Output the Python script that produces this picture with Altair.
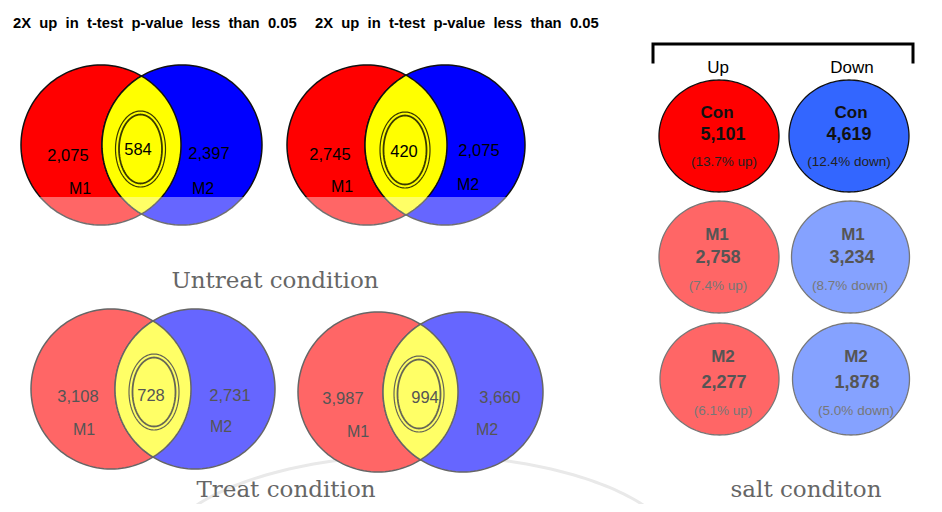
import altair as alt
import pandas as pd
import numpy as np

# ---------------- data ----------------
titles = ["2X up in t-test p-value less than 0.05", "2X up in t-test p-value less than 0.05"]
venn_m1_only = ["2,075", "2,745", "3,108", "3,987"]
venn_both = ["584", "420", "728", "994"]
venn_m2_only = ["2,397", "2,075", "2,731", "3,660"]
venn_set_names = ["M1", "M2"]
condition_labels = ["Untreat condition", "Treat condition", "salt conditon"]
salt_columns = ["Up", "Down"]
salt_groups = ["Con", "M1", "M2"]
salt_up = ["5,101", "2,758", "2,277"]
salt_up_pct = ["(13.7% up)", "(7.4% up)", "(6.1% up)"]
salt_down = ["4,619", "3,234", "1,878"]
salt_down_pct = ["(12.4% down)", "(8.7% down)", "(5.0% down)"]

# ---------------- layout (page pixels) ----------------
W, H = 926, 496
venn_lcx = [101, 367, 111, 378]
venn_rcx = [182, 445, 195, 463]
venn_cy = [145, 145, 389, 392]
venn_r = [80, 80, 80, 80]
venn_ell = [(140.5, 149), (405, 150), (154, 392), (419, 394)]
venn_m1_pos = [(68, 156), (330, 155), (78, 397), (343, 399)]
venn_both_pos = [(138, 150), (404, 152), (151, 396), (425, 398)]
venn_m2_pos = [(209, 154), (479, 151), (230, 396), (500, 398)]
venn_n1_pos = [(80, 189), (342, 187), (84, 430), (358, 432)]
venn_n2_pos = [(203, 189), (468, 185), (221, 427), (487, 430)]
venn_fade_y = [197, 197, None, None]
venn_strong = [True, True, False, False]

title_pos = [(13, 24), (315, 24)]
cond_pos = [(275, 288), (286, 497), (806, 497)]
col_pos = [(718, 68), (852, 68)]
bracket_x = [653, 653, 913, 913]
bracket_y = [62, 44, 44, 62]
watermark = (420, 560, 262, 105)

salt_up_c = [(719, 136), (719, 257), (719.5, 379)]
salt_dn_c = [(849, 136), (850.5, 257), (851, 379)]
salt_rx = [[60, 60], [60, 59], [59.5, 58.5]]
salt_ry = 56
salt_up_txt = [[(717, 113), (723, 135), (724, 162)],
               [(717, 235), (718, 258), (718, 286)],
               [(723, 357), (724, 383), (723, 411)]]
salt_dn_txt = [[(851, 113), (849, 135), (849, 162)],
               [(853, 235), (852, 258), (850, 286)],
               [(856, 357), (857, 383), (856, 411)]]


def path_of(pts):
    return "M" + " L".join(f"{a:.2f},{b:.2f}" for a, b in pts) + " Z"


def ellipse_path(rx, ry, n=140):
    t = np.linspace(0, 2 * np.pi, n, endpoint=False)
    return path_of(zip(rx * np.cos(t), ry * np.sin(t)))


def lens_path(d, r, n=80):
    h = np.sqrt(r * r - (d / 2) ** 2)
    a = np.arctan2(h, d / 2)
    t1 = np.linspace(-a, a, n)
    p1 = list(zip(-d / 2 + r * np.cos(t1), r * np.sin(t1)))
    t2 = np.linspace(np.pi - a, np.pi + a, n)
    p2 = list(zip(d / 2 + r * np.cos(t2), r * np.sin(t2)))
    return path_of(p1 + p2)


def fade_path(d, r, yb, n=80):
    # union of both circles below the line y = yb (relative to centre)
    h = np.sqrt(r * r - (d / 2) ** 2)
    a = np.arctan2(h, d / 2)
    s = np.arcsin(yb / r)
    t1 = np.linspace(np.pi - s, a, n)
    p1 = list(zip(-d / 2 + r * np.cos(t1), r * np.sin(t1)))
    t2 = np.linspace(np.pi - a, s, n)
    p2 = list(zip(d / 2 + r * np.cos(t2), r * np.sin(t2)))
    return path_of(p1 + p2)


shapes = []
z = 0
wx, wy, wrx, wry = watermark
shapes.append(dict(x=wx, y=wy, path=ellipse_path(wrx, wry, 240), fill="none", stroke="#e9e9e9", sw=3, fo=0, z=z)); z += 1
for i in range(4):
    strong = venn_strong[i]
    red = "#ff0000" if strong else "#ff6666"
    blue = "#0000ff" if strong else "#6666ff"
    yel = "#ffff00" if strong else "#ffff66"
    edge = "#111111" if strong else "#666666"
    ring = "#3a3a00" if strong else "#666655"
    r = venn_r[i]
    lx, rx_, cy = venn_lcx[i], venn_rcx[i], venn_cy[i]
    mx = (lx + rx_) / 2
    d = rx_ - lx
    for cx, col in [(lx, red), (rx_, blue)]:
        shapes.append(dict(x=cx, y=cy, path=ellipse_path(r, r), fill=col, stroke=edge, sw=1.5, fo=1, z=z)); z += 1
    shapes.append(dict(x=mx, y=cy, path=lens_path(d, r), fill=yel, stroke=edge, sw=1.5, fo=1, z=z)); z += 1
    ex, ey = venn_ell[i]
    shapes.append(dict(x=ex, y=ey, path=ellipse_path(25, 38), fill="none", stroke=ring, sw=1.2, fo=0, z=z)); z += 1
    shapes.append(dict(x=ex, y=ey, path=ellipse_path(21.5, 34.5), fill="none", stroke=ring, sw=1.8, fo=0, z=z)); z += 1
    if venn_fade_y[i] is not None:
        shapes.append(dict(x=mx, y=cy, path=fade_path(d, r + 1.2, venn_fade_y[i] - cy), fill="#ffffff",
                           stroke="#ffffff", sw=0, fo=0.4, z=z)); z += 1

for k in range(3):
    strong = k == 0
    up_col = "#ff0000" if strong else "#ff6666"
    dn_col = "#3366ff" if strong else "#85a2ff"
    edge = "#111111" if strong else "#777777"
    (ux, uy), (dx, dy) = salt_up_c[k], salt_dn_c[k]
    shapes.append(dict(x=ux, y=uy, path=ellipse_path(salt_rx[k][0], salt_ry), fill=up_col, stroke=edge, sw=1.3, fo=1, z=z)); z += 1
    shapes.append(dict(x=dx, y=dy, path=ellipse_path(salt_rx[k][1], salt_ry), fill=dn_col, stroke=edge, sw=1.3, fo=1, z=z)); z += 1

shapes_df = pd.DataFrame(shapes)

X = alt.X("x:Q", scale=alt.Scale(domain=[8, 8 + W], nice=False, zero=False), axis=None)
Y = alt.Y("y:Q", scale=alt.Scale(domain=[8, 8 + H], reverse=True, nice=False, zero=False), axis=None)

shape_layer = alt.Chart(shapes_df).mark_point(filled=True, opacity=1, size=4).encode(
    x=X, y=Y,
    shape=alt.Shape("path:N", scale=None),
    fill=alt.Fill("fill:N", scale=None),
    stroke=alt.Stroke("stroke:N", scale=None),
    strokeWidth=alt.StrokeWidth("sw:Q", scale=None),
    fillOpacity=alt.FillOpacity("fo:Q", scale=None),
    order=alt.Order("z:Q"),
)

bracket_df = pd.DataFrame({"x": bracket_x, "y": bracket_y, "o": range(4)})
bracket_layer = alt.Chart(bracket_df).mark_line(color="#000000", strokeWidth=3, strokeCap="square").encode(
    x=X, y=Y, order="o:Q")

# ---------------- texts ----------------
rows_normal, rows_bold = [], []
for t, (x, y) in zip(titles, title_pos):
    rows_bold.append(dict(x=x, y=y, text=t.replace(" ", "\u00a0\u00a0"), size=14.8, color="#000000", align="left"))
for i in range(4):
    col = "#000000" if venn_strong[i] else "#555555"
    for txt, (x, y) in [(venn_m1_only[i], venn_m1_pos[i]), (venn_both[i], venn_both_pos[i]),
                        (venn_m2_only[i], venn_m2_pos[i])]:
        rows_normal.append(dict(x=x, y=y, text=txt, size=16.5, color=col, align="center"))
    for txt, (x, y) in [(venn_set_names[0], venn_n1_pos[i]), (venn_set_names[1], venn_n2_pos[i])]:
        rows_normal.append(dict(x=x, y=y, text=txt, size=16, color=col, align="center"))
for txt, (x, y) in zip(salt_columns, col_pos):
    rows_normal.append(dict(x=x, y=y, text=txt, size=17, color="#000000", align="center"))
for k in range(3):
    main = "#111111" if k == 0 else "#555555"
    sub = "#222222" if k == 0 else "#777777"
    for pos, val, pct in [(salt_up_txt[k], salt_up[k], salt_up_pct[k]), (salt_dn_txt[k], salt_down[k], salt_down_pct[k])]:
        rows_bold.append(dict(x=pos[0][0], y=pos[0][1], text=salt_groups[k], size=17, color=main, align="center"))
        rows_bold.append(dict(x=pos[1][0], y=pos[1][1], text=val, size=18, color=main, align="center"))
        rows_normal.append(dict(x=pos[2][0], y=pos[2][1], text=pct, size=13.5, color=sub, align="center"))

cond_df = pd.DataFrame([dict(x=x, y=y, text=t) for t, (x, y) in zip(condition_labels, cond_pos)])


def text_layer(df, weight):
    layers = []
    for al in df["align"].unique():
        sub = df[df["align"] == al]
        layers.append(alt.Chart(sub).mark_text(font="Liberation Sans", fontWeight=weight, align=al, baseline="middle").encode(
            x=X, y=Y, text="text:N",
            size=alt.Size("size:Q", scale=None),
            color=alt.Color("color:N", scale=None)))
    return layers


normal_layers = text_layer(pd.DataFrame(rows_normal), "normal")
bold_layers = text_layer(pd.DataFrame(rows_bold), "bold")
cond_layer = alt.Chart(cond_df).mark_text(font="DejaVu Serif", fontSize=23, color="#666666",
                                          align="center", baseline="alphabetic").encode(x=X, y=Y, text="text:N")

chart = alt.layer(shape_layer, bracket_layer, *normal_layers, *bold_layers, cond_layer).properties(
    width=W, height=H, padding=0, autosize="none"
).configure(background="#ffffff", view=alt.ViewConfig(stroke=None))

chart.save("out.html", embed_options={"renderer": "svg", "actions": False})
